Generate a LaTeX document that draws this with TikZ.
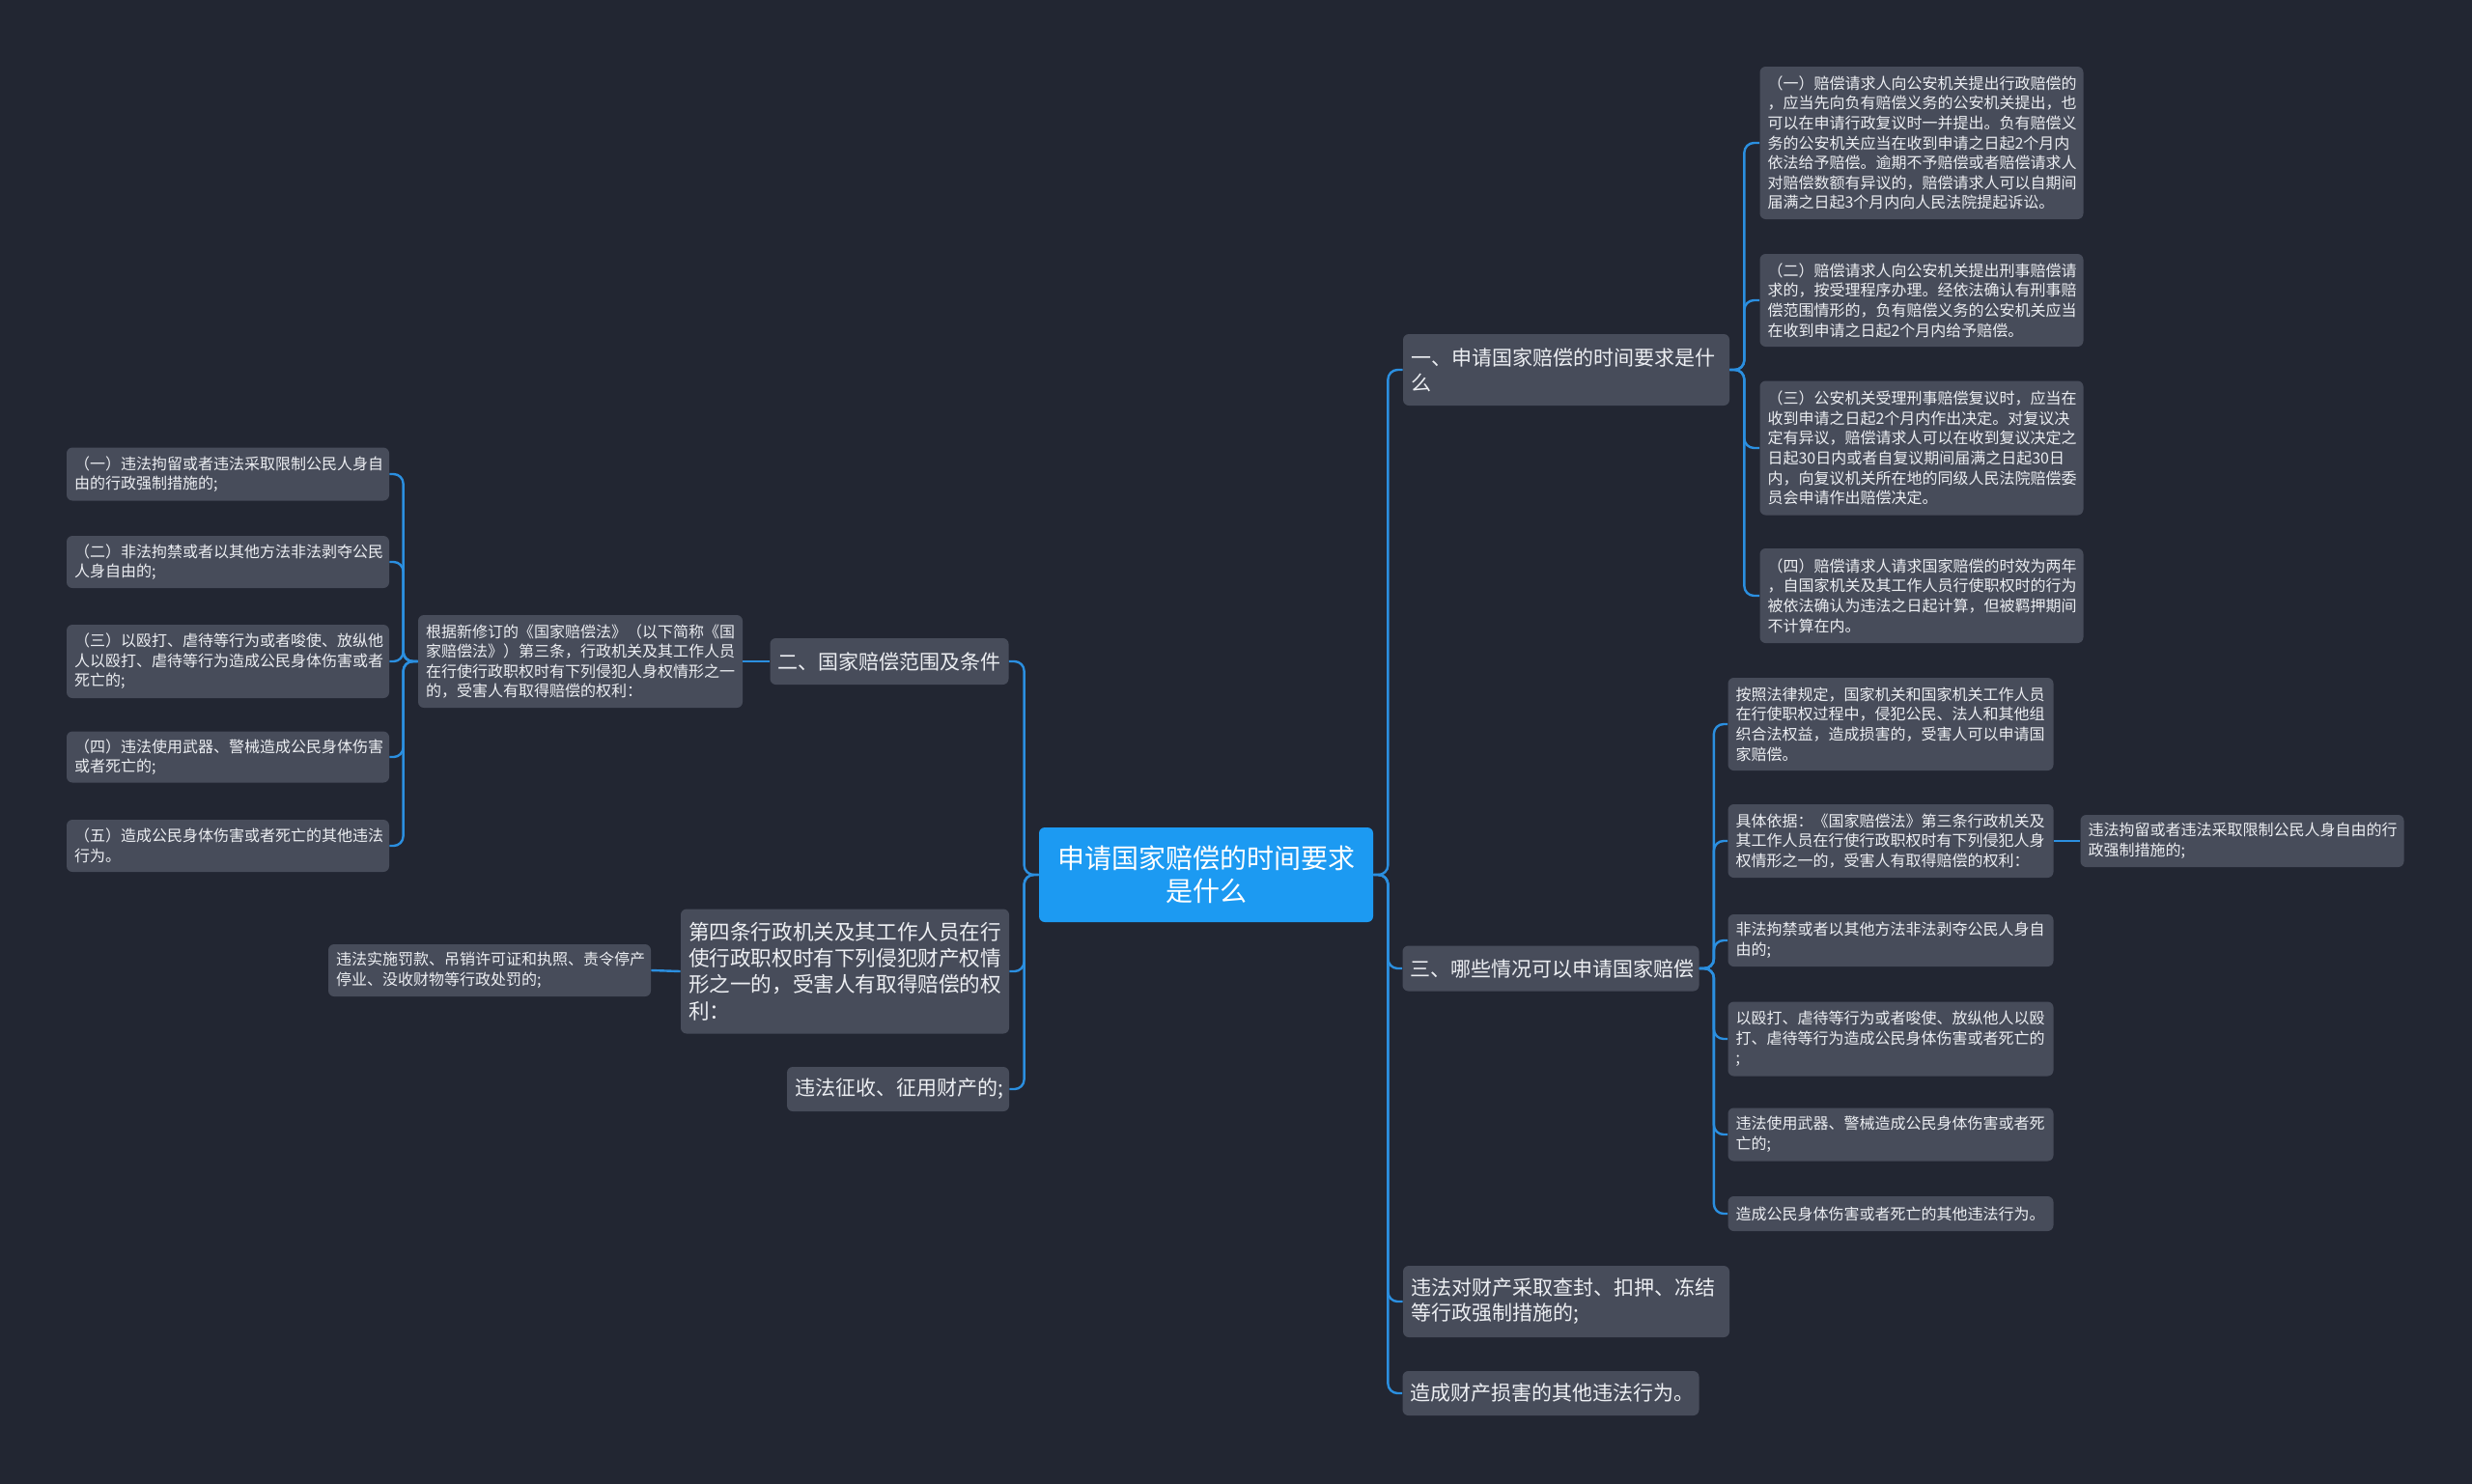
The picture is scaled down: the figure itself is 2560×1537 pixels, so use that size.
\documentclass[tikz,border=0pt]{standalone}
\usepackage{fontspec}
\setmainfont{Noto Sans CJK SC}
\begin{document}
\begin{tikzpicture}[x=0.5pt,y=-0.5pt,
  bx/.style={rectangle,rounded corners=3pt,fill=nodefill,text=txt,inner xsep=4pt,inner ysep=0pt,align=left},
  sm/.style={bx,font=\fontsize{8}{10.3}\selectfont},
  md/.style={bx,font=\fontsize{10.5}{13}\selectfont},
  conn/.style={draw=linec,line width=1.2pt,rounded corners=5pt}]
\definecolor{bg}{HTML}{222632}
\definecolor{nodefill}{HTML}{474C5A}
\definecolor{txt}{HTML}{ECEEF2}
\definecolor{linec}{HTML}{2B8FE0}
\definecolor{ctrc}{HTML}{1C9AF2}
\fill[bg] (0,0) rectangle (2560,1537);
\useasboundingbox (0,0) rectangle (2560,1537);
% center
\node[bx,fill=ctrc,text=white,align=center,font=\fontsize{14}{17}\selectfont,minimum width=173pt,minimum height=49pt] (ctr) at (1249,906) {申请国家赔偿的时间要求\\是什么};
% right level 1
\node[md,text width=161pt,minimum height=37pt] (n1) at (1622,383) {一、申请国家赔偿的时间要求是什\\么};
\node[md,text width=145.5pt,minimum height=23.5pt] (n3) at (1606,1003) {三、哪些情况可以申请国家赔偿};
\node[md,text width=161pt,minimum height=37pt] (n4) at (1622,1348) {违法对财产采取查封、扣押、冻结\\等行政强制措施的;};
\node[md,text width=145.5pt,minimum height=23pt] (n5) at (1606,1443) {造成财产损害的其他违法行为。};
% left level 1
\node[md,text width=115.5pt,minimum height=24pt] (n2) at (921,685) {二、国家赔偿范围及条件};
\node[bx,font=\fontsize{10.8}{13.6}\selectfont,text width=162pt,minimum height=64.5pt] (n6) at (875,1006) {第四条行政机关及其工作人员在行\\使行政职权时有下列侵犯财产权情\\形之一的，受害人有取得赔偿的权\\利：};
\node[md,text width=107pt,minimum height=23pt,align=right] (n7) at (930,1128) {违法征收、征用财产的;};
% children of n1
\node[sm,text width=159.5pt,minimum height=79pt] (a1) at (1990,148) {（一）赔偿请求人向公安机关提出行政赔偿的\\，应当先向负有赔偿义务的公安机关提出，也\\可以在申请行政复议时一并提出。负有赔偿义\\务的公安机关应当在收到申请之日起2个月内\\依法给予赔偿。逾期不予赔偿或者赔偿请求人\\对赔偿数额有异议的，赔偿请求人可以自期间\\届满之日起3个月内向人民法院提起诉讼。};
\node[sm,text width=159.5pt,minimum height=48pt] (a2) at (1990,311) {（二）赔偿请求人向公安机关提出刑事赔偿请\\求的，按受理程序办理。经依法确认有刑事赔\\偿范围情形的，负有赔偿义务的公安机关应当\\在收到申请之日起2个月内给予赔偿。};
\node[sm,text width=159.5pt,minimum height=69.5pt] (a3) at (1990,464) {（三）公安机关受理刑事赔偿复议时，应当在\\收到申请之日起2个月内作出决定。对复议决\\定有异议，赔偿请求人可以在收到复议决定之\\日起30日内或者自复议期间届满之日起30日\\内，向复议机关所在地的同级人民法院赔偿委\\员会申请作出赔偿决定。};
\node[sm,text width=159.5pt,minimum height=49pt] (a4) at (1990,617) {（四）赔偿请求人请求国家赔偿的时效为两年\\，自国家机关及其工作人员行使职权时的行为\\被依法确认为违法之日起计算，但被羁押期间\\不计算在内。};
% children of n3
\node[sm,text width=160.5pt,minimum height=48pt] (b1) at (1958,750) {按照法律规定，国家机关和国家机关工作人员\\在行使职权过程中，侵犯公民、法人和其他组\\织合法权益，造成损害的，受害人可以申请国\\家赔偿。};
\node[sm,text width=160.5pt,minimum height=38pt] (b2) at (1958,871) {具体依据：《国家赔偿法》第三条行政机关及\\其工作人员在行使行政职权时有下列侵犯人身\\权情形之一的，受害人有取得赔偿的权利：};
\node[sm,text width=160.5pt,minimum height=27pt] (b3) at (1958,974) {非法拘禁或者以其他方法非法剥夺公民人身自\\由的;};
\node[sm,text width=160.5pt,minimum height=38.5pt] (b4) at (1958,1076) {以殴打、虐待等行为或者唆使、放纵他人以殴\\打、虐待等行为造成公民身体伤害或者死亡的\\;};
\node[sm,text width=160.5pt,minimum height=27.5pt] (b5) at (1958,1175) {违法使用武器、警械造成公民身体伤害或者死\\亡的;};
\node[sm,text width=160.5pt,minimum height=18pt] (b6) at (1958,1257) {造成公民身体伤害或者死亡的其他违法行为。};
\node[sm,text width=159.5pt,minimum height=27pt] (b21) at (2322,871) {违法拘留或者违法采取限制公民人身自由的行\\政强制措施的;};
% left children
\node[sm,text width=160pt,minimum height=48pt] (c0) at (601,685) {根据新修订的《国家赔偿法》（以下简称《国\\家赔偿法》）第三条，行政机关及其工作人员\\在行使行政职权时有下列侵犯人身权情形之一\\的，受害人有取得赔偿的权利：};
\node[sm,text width=159pt,minimum height=27.5pt] (c1) at (236,491) {（一）违法拘留或者违法采取限制公民人身自\\由的行政强制措施的;};
\node[sm,text width=159pt,minimum height=27pt] (c2) at (236,582) {（二）非法拘禁或者以其他方法非法剥夺公民\\人身自由的;};
\node[sm,text width=159pt,minimum height=38pt] (c3) at (236,685) {（三）以殴打、虐待等行为或者唆使、放纵他\\人以殴打、虐待等行为造成公民身体伤害或者\\死亡的;};
\node[sm,text width=159pt,minimum height=26.5pt] (c4) at (236,784) {（四）违法使用武器、警械造成公民身体伤害\\或者死亡的;};
\node[sm,text width=159pt,minimum height=27pt] (c5) at (236,876) {（五）造成公民身体伤害或者死亡的其他违法\\行为。};
\node[sm,text width=159pt,minimum height=27pt] (d1) at (507,1005) {违法实施罚款、吊销许可证和执照、责令停产\\停业、没收财物等行政处罚的;};
% connectors
\foreach \c in {n1,n3,n4,n5} \draw[conn] (ctr.east) -- ++(15,0) |- (\c.west);
\foreach \c in {n2,n6,n7} \draw[conn] (ctr.west) -- ++(-15,0) |- (\c.east);
\foreach \c in {a1,a2,a3,a4} \draw[conn] (n1.east) -- ++(15,0) |- (\c.west);
\foreach \c in {b1,b2,b3,b4,b5,b6} \draw[conn] (n3.east) -- ++(15,0) |- (\c.west);
\draw[conn] (b2.east) -- (b21.west);
\draw[conn] (n2.west) -- (c0.east);
\foreach \c in {c1,c2,c3,c4,c5} \draw[conn] (c0.west) -- ++(-15,0) |- (\c.east);
\draw[conn] (n6.west) -- (d1.east);
\end{tikzpicture}
\end{document}
